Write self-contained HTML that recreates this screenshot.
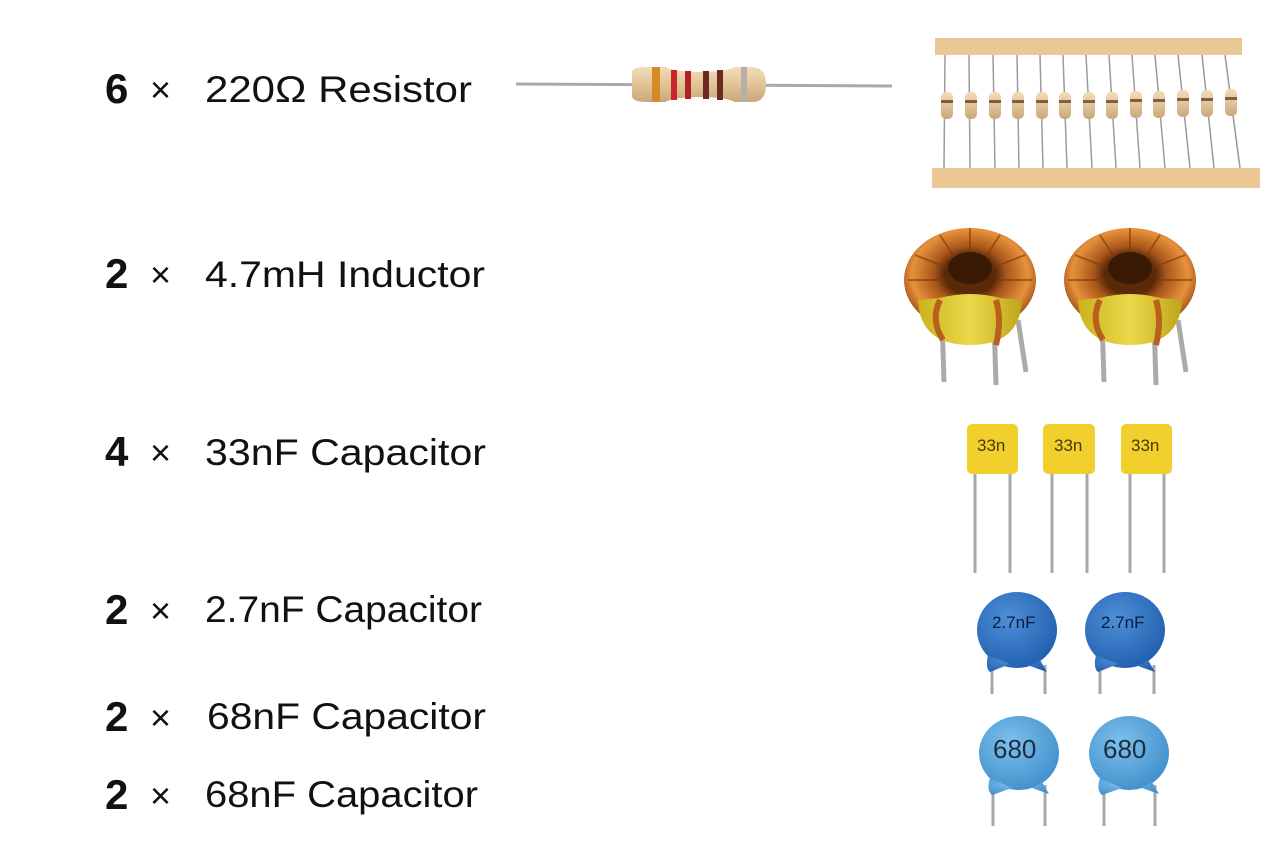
<!DOCTYPE html>
<html><head><meta charset="utf-8"><style>
html,body{margin:0;padding:0;background:#fff}
svg{display:block}
text{font-family:"Liberation Sans",sans-serif;fill:#111}
.n{font-weight:bold;font-size:42px}
.x{font-size:36px}
.l{font-size:37px}
</style></head><body>
<svg width="1280" height="853" viewBox="0 0 1280 853" xmlns="http://www.w3.org/2000/svg">
<defs>
<linearGradient id="rb" x1="0" y1="0" x2="0" y2="1"><stop offset="0" stop-color="#f1dcb8"/><stop offset=".5" stop-color="#e2c497"/><stop offset="1" stop-color="#c9a77a"/></linearGradient>
<radialGradient id="cu" cx=".5" cy=".45" r=".55"><stop offset=".35" stop-color="#5a2a08"/><stop offset=".5" stop-color="#a8561a"/><stop offset=".8" stop-color="#e8913c"/><stop offset="1" stop-color="#9a4a12"/></radialGradient>
<linearGradient id="yc" x1="0" y1="0" x2="1" y2="0"><stop offset="0" stop-color="#c9b21e"/><stop offset=".5" stop-color="#ecd94a"/><stop offset="1" stop-color="#bfa51a"/></linearGradient>
<radialGradient id="bd" cx=".4" cy=".35" r=".7"><stop offset="0" stop-color="#4f8fd8"/><stop offset="1" stop-color="#1f5fae"/></radialGradient>
<radialGradient id="bl" cx=".4" cy=".35" r=".7"><stop offset="0" stop-color="#7ec0ec"/><stop offset="1" stop-color="#3f8fcc"/></radialGradient>
</defs>

<text class="n" x="105" y="103">6</text><text class="x" x="150" y="102">×</text><text class="l" x="205" y="102" textLength="267" lengthAdjust="spacingAndGlyphs">220Ω Resistor</text>
<text class="n" x="105" y="288">2</text><text class="x" x="150" y="287">×</text><text class="l" x="205" y="287" textLength="280" lengthAdjust="spacingAndGlyphs">4.7mH Inductor</text>
<text class="n" x="105" y="466">4</text><text class="x" x="150" y="465">×</text><text class="l" x="205" y="465" textLength="281" lengthAdjust="spacingAndGlyphs">33nF Capacitor</text>
<text class="n" x="105" y="624">2</text><text class="x" x="150" y="623">×</text><text class="l" x="205" y="622" textLength="277" lengthAdjust="spacingAndGlyphs">2.7nF Capacitor</text>
<text class="n" x="105" y="731">2</text><text class="x" x="150" y="730">×</text><text class="l" x="207" y="729" textLength="279" lengthAdjust="spacingAndGlyphs">68nF Capacitor</text>
<text class="n" x="105" y="809">2</text><text class="x" x="150" y="808">×</text><text class="l" x="205" y="807" textLength="273" lengthAdjust="spacingAndGlyphs">68nF Capacitor</text>

<line x1="516" y1="84" x2="892" y2="86" stroke="#a9a9a9" stroke-width="3"/>
<path d="M632 72 Q632 67 648 67 L665 67 Q675 72 700 72 Q725 72 735 67 L752 67 Q766 67 766 85 Q766 102 752 102 L735 102 Q725 97 700 97 Q675 97 665 102 L648 102 Q632 102 632 96Z" fill="url(#rb)"/>
<rect x="652" y="67" width="8" height="35" fill="#d58a2a"/>
<rect x="671" y="70" width="6" height="30" fill="#c8262a"/>
<rect x="685" y="71" width="6" height="28" fill="#b02026"/>
<rect x="703" y="71" width="6" height="28" fill="#6e2a20"/>
<rect x="717" y="70" width="6" height="30" fill="#6e2a20"/>
<rect x="741" y="67" width="6" height="35" fill="#b8b0a6"/>

<g stroke="#9a9a9a" stroke-width="1.5">
<line x1="945" y1="55" x2="944" y2="168"/><line x1="969" y1="55" x2="970" y2="168"/><line x1="993" y1="55" x2="995" y2="168"/><line x1="1017" y1="55" x2="1019" y2="168"/><line x1="1040" y1="55" x2="1043" y2="168"/><line x1="1063" y1="55" x2="1067" y2="168"/><line x1="1086" y1="55" x2="1092" y2="168"/><line x1="1109" y1="55" x2="1116" y2="168"/><line x1="1132" y1="55" x2="1140" y2="168"/><line x1="1155" y1="55" x2="1165" y2="168"/><line x1="1178" y1="55" x2="1190" y2="168"/><line x1="1202" y1="55" x2="1214" y2="168"/><line x1="1225" y1="55" x2="1240" y2="168"/>
</g>
<g fill="url(#rb)">
<rect x="941" y="92" width="12" height="27" rx="5"/><rect x="965" y="92" width="12" height="27" rx="5"/><rect x="989" y="92" width="12" height="27" rx="5"/><rect x="1012" y="92" width="12" height="27" rx="5"/><rect x="1036" y="92" width="12" height="27" rx="5"/><rect x="1059" y="92" width="12" height="27" rx="5"/><rect x="1083" y="92" width="12" height="27" rx="5"/><rect x="1106" y="92" width="12" height="27" rx="5"/><rect x="1130" y="91" width="12" height="27" rx="5"/><rect x="1153" y="91" width="12" height="27" rx="5"/><rect x="1177" y="90" width="12" height="27" rx="5"/><rect x="1201" y="90" width="12" height="27" rx="5"/><rect x="1225" y="89" width="12" height="27" rx="5"/>
</g>
<g fill="#5a2e1e" opacity=".7">
<rect x="941" y="100" width="12" height="3"/><rect x="965" y="100" width="12" height="3"/><rect x="989" y="100" width="12" height="3"/><rect x="1012" y="100" width="12" height="3"/><rect x="1036" y="100" width="12" height="3"/><rect x="1059" y="100" width="12" height="3"/><rect x="1083" y="100" width="12" height="3"/><rect x="1106" y="100" width="12" height="3"/><rect x="1130" y="99" width="12" height="3"/><rect x="1153" y="99" width="12" height="3"/><rect x="1177" y="98" width="12" height="3"/><rect x="1201" y="98" width="12" height="3"/><rect x="1225" y="97" width="12" height="3"/>
</g>
<rect x="935" y="38" width="307" height="17" fill="#ebc796"/>
<rect x="932" y="168" width="328" height="20" fill="#ebc796"/>

<g id="ind">
<line x1="942" y1="320" x2="944" y2="382" stroke="#aaa" stroke-width="5"/>
<line x1="994" y1="320" x2="996" y2="385" stroke="#aaa" stroke-width="5"/>
<line x1="1018" y1="320" x2="1026" y2="372" stroke="#aaa" stroke-width="5"/>
<ellipse cx="970" cy="280" rx="66" ry="52" fill="url(#cu)"/>
<g stroke="#7a3a0c" stroke-width="2" opacity=".6" fill="none">
<path d="M970 228 L970 255 M940 235 L955 258 M1000 235 L985 258 M915 255 L948 268 M1025 255 L992 268 M908 280 L945 280 M1032 280 L995 280"/>
</g>
<path d="M918 300 Q920 345 970 345 Q1020 345 1022 300 L1000 298 Q970 290 940 298Z" fill="url(#yc)"/>
<ellipse cx="970" cy="268" rx="22" ry="16" fill="#3a1a05"/>
<path d="M940 300 Q930 320 943 340 M996 300 Q1002 320 996 345" stroke="#b8601c" stroke-width="6" fill="none"/>
</g>
<use href="#ind" transform="translate(160,0)"/>

<g stroke="#a8a8a8" stroke-width="3">
<line x1="975" y1="474" x2="975" y2="573"/><line x1="1010" y1="474" x2="1010" y2="573"/>
<line x1="1052" y1="474" x2="1052" y2="573"/><line x1="1087" y1="474" x2="1087" y2="573"/>
<line x1="1130" y1="474" x2="1130" y2="573"/><line x1="1164" y1="474" x2="1164" y2="573"/>
</g>
<g fill="#f1cf2c"><rect x="967" y="424" width="51" height="50" rx="5"/><rect x="1043" y="424" width="52" height="50" rx="5"/><rect x="1121" y="424" width="51" height="50" rx="5"/></g>
<text x="977" y="451" style="fill:#4a3a0a;font-size:17px">33n</text><text x="1054" y="451" style="fill:#4a3a0a;font-size:17px">33n</text><text x="1131" y="451" style="fill:#4a3a0a;font-size:17px">33n</text>

<g stroke="#a8a8a8" stroke-width="3">
<line x1="992" y1="665" x2="992" y2="694"/><line x1="1045" y1="665" x2="1045" y2="694"/>
<line x1="1100" y1="665" x2="1100" y2="694"/><line x1="1154" y1="665" x2="1154" y2="694"/>
</g>
<g fill="url(#bd)">
<ellipse cx="1017" cy="630" rx="40" ry="38"/><path d="M988 655 Q985 668 990 672 L1010 664 Z M1040 660 L1047 672 L1030 666Z"/>
<ellipse cx="1125" cy="630" rx="40" ry="38"/><path d="M1096 655 Q1093 668 1098 672 L1118 664 Z M1148 660 L1155 672 L1138 666Z"/>
</g>
<text x="992" y="628" style="font-size:17px;fill:#0c1e3a">2.7nF</text>
<text x="1101" y="628" style="font-size:17px;fill:#0c1e3a">2.7nF</text>

<g stroke="#a8a8a8" stroke-width="3">
<line x1="993" y1="785" x2="993" y2="826"/><line x1="1045" y1="785" x2="1045" y2="826"/>
<line x1="1104" y1="785" x2="1104" y2="826"/><line x1="1155" y1="785" x2="1155" y2="826"/>
</g>
<g fill="url(#bl)">
<ellipse cx="1019" cy="753" rx="40" ry="37"/><path d="M990 778 Q986 790 992 795 L1012 788 Z M1042 782 L1049 794 L1032 788Z"/>
<ellipse cx="1129" cy="753" rx="40" ry="37"/><path d="M1100 778 Q1096 790 1102 795 L1122 788 Z M1152 782 L1159 794 L1142 788Z"/>
</g>
<text x="993" y="758" style="font-size:26px;fill:#1e2e3e">680</text>
<text x="1103" y="758" style="font-size:26px;fill:#1e2e3e">680</text>
</svg>
</body></html>
